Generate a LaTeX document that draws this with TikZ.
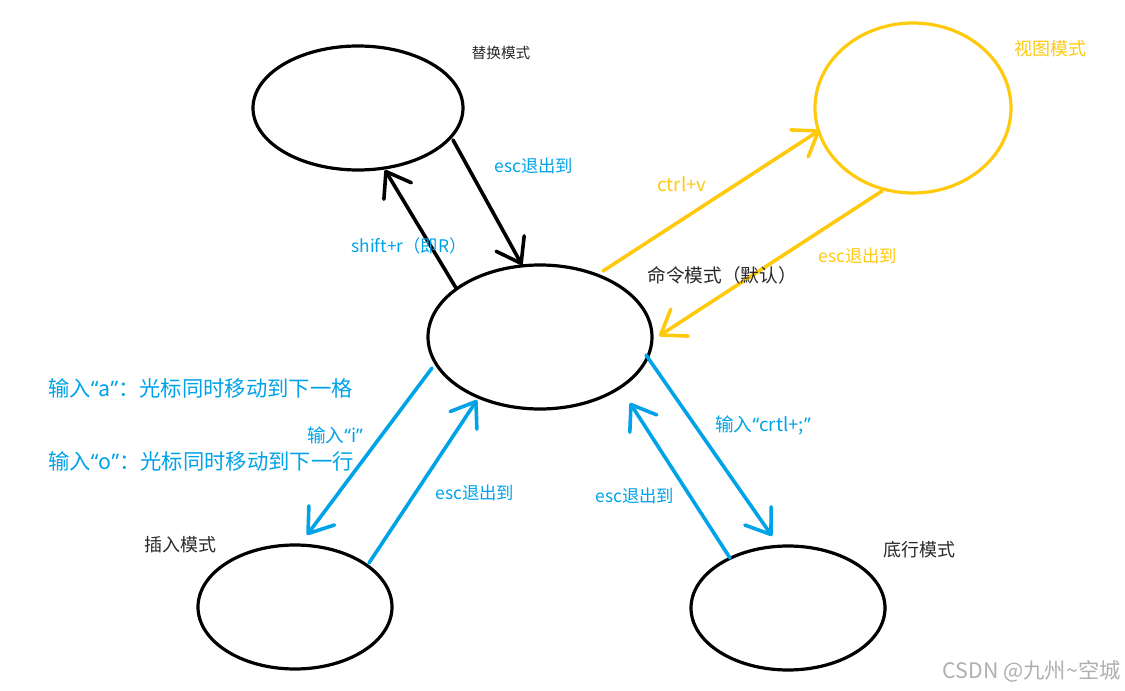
\documentclass[tikz,border=0pt]{standalone}
\usepackage{fontspec}
\setmainfont{Noto Sans CJK SC}
\newfontfamily\latq{Noto Sans}
\newcommand\myLQ{{\latq “}}
\newcommand\myRQ{{\latq ”}}
\usetikzlibrary{shapes.geometric,arrows.meta,calc}
\definecolor{pblue}{RGB}{0,162,232}
\definecolor{pyel}{RGB}{255,201,14}
\definecolor{ptext}{RGB}{40,40,40}
\definecolor{pgray}{RGB}{175,175,175}
\begin{document}
\begin{tikzpicture}[x=0.75pt,y=-0.75pt,
  state/.style={draw,shape=ellipse,line width=2.4pt,inner sep=0pt},
  conn/.style={line width=2.7pt,line cap=round,-{Straight Barb[length=17pt,width=24pt,round]}},
  lbl/.style={inner sep=0pt,font=\fontsize{13pt}{15pt}\selectfont},
  big/.style={inner sep=0pt,font=\fontsize{16pt}{19pt}\selectfont,text=pblue}]
\useasboundingbox (0,0) rectangle (1125,691);
% states
\node[state,minimum width=157.5pt,minimum height=93pt] (rep) at (358,108) {};
\node[state,draw=pyel,minimum width=147pt,minimum height=127.5pt] (vis) at (913,108) {};
\node[state,minimum width=168pt,minimum height=108pt] (cmd) at (540,337) {};
\node[state,minimum width=145.5pt,minimum height=93pt] (ins) at (295,607) {};
\node[state,minimum width=145.5pt,minimum height=93pt] (bot) at (788,608) {};
% connectors
\draw[conn] ($(cmd)+(-84,-49)$) -- ($(rep)+(27,62)$);
\draw[conn] ($(rep)+(95,32)$) -- ($(cmd)+(-18,-72)$);
\draw[conn,pyel] ($(cmd)+(63,-66)$) -- ($(vis)+(-93,22)$);
\draw[conn,pyel] ($(vis)+(-31,83)$) -- ($(cmd)+(119,-1)$);
\draw[conn,pblue] ($(cmd)+(-108,31)$) -- ($(ins)+(12,-72)$);
\draw[conn,pblue] ($(ins)+(74,-44)$) -- ($(cmd)+(-63,63)$);
\draw[conn,pblue] ($(bot)+(-58,-50)$) -- ($(cmd)+(90,66)$);
\draw[conn,pblue] ($(cmd)+(106,18)$) -- ($(bot)+(-16,-72)$);
% labels
\node[lbl,text=ptext,font=\fontsize{11pt}{13pt}\selectfont] (trep) at (501,53) {替换模式};
\node[lbl,text=pyel,font=\fontsize{13.5pt}{16pt}\selectfont] (tvis) at (1050,49) {视图模式};
\node[lbl,text=pblue] (l1) at (534,166) {esc退出到};
\node[lbl,text=pblue] (l2) at (409,246) {shift+r（即R）};
\node[lbl,text=pyel,font=\fontsize{14pt}{16pt}\selectfont] (l3) at (682,184) {ctrl+v};
\node[lbl,text=pyel] (l4) at (858,256) {esc退出到};
\node[lbl,text=ptext,font=\fontsize{14pt}{16pt}\selectfont] (tcmd) at (722,275) {命令模式（默认）};
\node[big,anchor=west] (na) at (48,388) {输入\myLQ a\myRQ ：光标同时移动到下一格};
\node[lbl,text=pblue,font=\fontsize{14pt}{16pt}\selectfont] (l5) at (335,435) {输入\myLQ i\myRQ};
\node[big,anchor=west] (no) at (48,461) {输入\myLQ o\myRQ ：光标同时移动到下一行};
\node[lbl,text=pblue] (l6) at (475,493) {esc退出到};
\node[lbl,text=pblue] (l7) at (635,496) {esc退出到};
\node[lbl,text=pblue,font=\fontsize{14pt}{16pt}\selectfont] (l8) at (763,425) {输入\myLQ crtl+;\myRQ};
\node[lbl,text=ptext,font=\fontsize{13.5pt}{16pt}\selectfont] (tins) at (180,545) {插入模式};
\node[lbl,text=ptext,font=\fontsize{13.5pt}{16pt}\selectfont] (tbot) at (919,550) {底行模式};
\node[inner sep=0pt,anchor=east,text=pgray,font=\fontsize{16pt}{18pt}\selectfont] (wm) at (1121,671) {CSDN @九州\textasciitilde 空城};
\end{tikzpicture}
\end{document}
